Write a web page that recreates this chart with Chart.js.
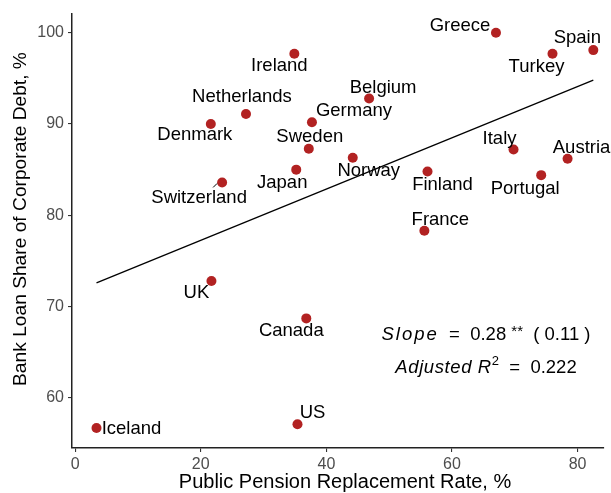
<!DOCTYPE html>
<html>
<head>
<meta charset="utf-8">
<script src="https://cdn.jsdelivr.net/npm/chart.js@4"></script>
<style>
  html, body { margin: 0; padding: 0; background: #fff; }
  #wrap { width: 611px; height: 493px; }
</style>
</head>
<body>
<div id="wrap"><canvas id="pensionChart" width="611" height="493"></canvas></div>
<script>
// ----------------------------
// Data
// ----------------------------
const countries = ["Greece", "Spain", "Turkey", "Ireland", "Belgium", "Netherlands", "Germany",
  "Denmark", "Sweden", "Italy", "Austria", "Norway", "Japan", "Finland", "Portugal",
  "Switzerland", "France", "UK", "Canada", "US", "Iceland"];
const replacementRate = [67.0, 82.5, 76.0, 34.9, 46.8, 27.2, 37.7, 21.6, 37.2, 69.8, 78.4,
  44.2, 35.2, 56.1, 74.2, 23.4, 55.6, 21.7, 36.8, 35.4, 3.4];
const bankLoanShare = [100.0, 98.1, 97.7, 97.7, 92.8, 91.1, 90.2, 90.0, 87.3, 87.2, 86.2,
  86.3, 85.0, 84.8, 84.4, 83.6, 78.3, 72.8, 68.7, 57.1, 56.7];

// fitted line at both ends
const fitX = [3.4, 82.5];
const fitY = [72.6, 94.8];

const xTicks = [0, 20, 40, 60, 80];
const yTicks = [60, 70, 80, 90, 100];

// label placement (pixel offset from its point), like ggrepel left them
const labelOffset = {
  Greece: [-36, -7], Spain: [-16, -12], Turkey: [-16, 13], Ireland: [-15, 12],
  Belgium: [14, -11], Netherlands: [-4, -17], Germany: [42, -11], Denmark: [-16, 11],
  Sweden: [1, -12], Italy: [-14, -11], Austria: [14, -11], Norway: [16, 13],
  Japan: [-14, 13], Finland: [15, 13], Portugal: [-16, 14], Switzerland: [-23, 15],
  France: [16, -11], UK: [-15, 12], Canada: [-15, 12], US: [15, -11], Iceland: [35, 1]
};

const FONT = "'Liberation Sans', Arial, Helvetica, sans-serif";

// ----------------------------
// Labels, titles and annotation
// ----------------------------
const textPlugin = {
  id: "textPlugin",
  afterDatasetsDraw(chart) {
    const ctx = chart.ctx;
    const xs = chart.scales.x, ys = chart.scales.y;
    ctx.save();

    // country labels
    ctx.fillStyle = "#000";
    ctx.font = "18.5px " + FONT;
    ctx.textAlign = "center";
    ctx.textBaseline = "middle";
    countries.forEach((name, i) => {
      const px = xs.getPixelForValue(replacementRate[i]);
      const py = ys.getPixelForValue(bankLoanShare[i]);
      const off = labelOffset[name];
      ctx.fillText(name, px + off[0], py + off[1]);
      if (name === "Switzerland") {
        ctx.strokeStyle = "#000";
        ctx.lineWidth = 1;
        ctx.beginPath();
        ctx.moveTo(px - 5, py + 1);
        ctx.lineTo(px - 9, py + 5);
        ctx.stroke();
      }
    });

    // axis titles
    ctx.font = "20px " + FONT;
    ctx.fillText("Public Pension Replacement Rate, %", 345, 482);
    ctx.save();
    ctx.font = "19.2px " + FONT;
    ctx.translate(21, 219);
    ctx.rotate(-Math.PI / 2);
    ctx.fillText("Bank Loan Share of Corporate Debt, %", 0, 0);
    ctx.restore();

    // regression annotation (plotmath-like spacing)
    const drawParts = (parts, cx, cy) => {
      const widthOf = p => {
        ctx.font = p.font;
        ctx.letterSpacing = p.ls || "0px";
        return ctx.measureText(p.t).width;
      };
      let total = 0;
      parts.forEach(p => { total += widthOf(p); });
      let x = cx - total / 2;
      ctx.textAlign = "left";
      parts.forEach(p => {
        const w = widthOf(p);
        ctx.fillText(p.t, x, cy + (p.dy || 0));
        x += w;
      });
      ctx.letterSpacing = "0px";
    };
    const it = "italic 18.5px " + FONT, rm = "18.5px " + FONT;
    drawParts([
      { t: "Slope", font: it, ls: "2px" },
      { t: "  =  0.28 ", font: rm },
      { t: "**", font: "15px " + FONT, dy: -3 },
      { t: "  ( 0.11 )", font: rm }
    ], 486, 335);
    drawParts([
      { t: "Adjusted R", font: it, ls: "0.6px" },
      { t: "2", font: "13px " + FONT, dy: -7 },
      { t: "  =  0.222", font: rm }
    ], 486, 368);

    ctx.restore();
  }
};

// ----------------------------
// Chart
// ----------------------------
const axisCommon = {
  grid: { display: true, drawOnChartArea: false, drawTicks: true, tickLength: 4, color: "#333", lineWidth: 1.1 },
  border: { display: true, color: "#222", width: 1.5 },
  ticks: { color: "#4d4d4d", font: { family: FONT, size: 16 } }
};

new Chart(document.getElementById("pensionChart").getContext("2d"), {
  type: "scatter",
  data: {
    datasets: [
      {
        type: "line",
        data: fitX.map((x, i) => ({ x, y: fitY[i] })),
        borderColor: "#000",
        borderWidth: 1.3,
        pointRadius: 0,
        fill: false
      },
      {
        data: replacementRate.map((x, i) => ({ x, y: bankLoanShare[i] })),
        backgroundColor: "#B22222",
        borderWidth: 0,
        pointRadius: 5
      }
    ]
  },
  options: {
    responsive: false,
    devicePixelRatio: 1,
    animation: false,
    layout: { padding: { top: 12, right: 7, left: 0, bottom: 0 } },
    plugins: { legend: { display: false }, tooltip: { enabled: false } },
    scales: {
      x: {
        ...axisCommon,
        type: "linear",
        min: -0.5,
        max: 84.2,
        ticks: { ...axisCommon.ticks, padding: 3 },
        afterBuildTicks: s => { s.ticks = xTicks.map(v => ({ value: v })); },
        afterFit: s => { s.height = 45; }
      },
      y: {
        ...axisCommon,
        type: "linear",
        min: 54.5,
        max: 102.1,
        ticks: { ...axisCommon.ticks, padding: 4 },
        afterBuildTicks: s => { s.ticks = yTicks.map(v => ({ value: v })); },
        afterFit: s => { s.width = 72; }
      }
    }
  },
  plugins: [textPlugin]
});
</script>
</body>
</html>
